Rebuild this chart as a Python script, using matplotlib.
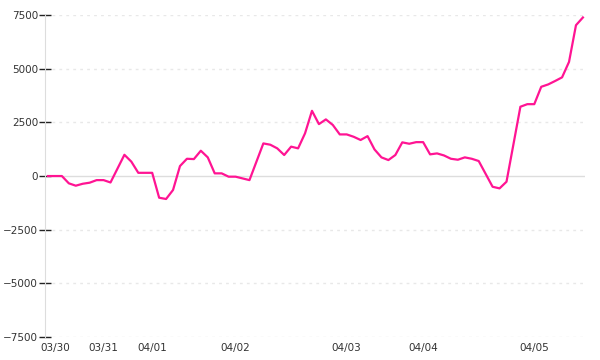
import matplotlib
matplotlib.use("Agg")
import matplotlib.pyplot as plt
import numpy as np

# one value per sample, evenly spaced along x
values = [0, 0, 0, -340, -450, -360, -310, -190, -190, -300,
          345, 990, 670, 150, 150, 150, -1010, -1070, -650, 465,
          805, 790, 1180, 870, 125, 125, -30, -30, -110, -190,
          665, 1520, 1460, 1290, 980, 1370, 1290, 1990, 3040, 2420,
          2640, 2380, 1940, 1940, 1830, 1680, 1860, 1240, 870, 745,
          980, 1570, 1505, 1580, 1580, 1010, 1055, 960, 805, 760,
          870, 805, 700, 100, -500, -575, -265, 1480, 3230, 3350,
          3350, 4160, 4270, 4430, 4600, 5320, 7030, 7390]

# first sample of each day
day_pos = [1, 8, 15, 27, 43, 54, 70]
day_labels = ["03/30", "03/31", "04/01", "04/02", "04/03", "04/04", "04/05"]

y_ticks = [-7500, -5000, -2500, 0, 2500, 5000, 7500]

x = np.arange(len(values))

fig = plt.figure(figsize=(6, 3.6), dpi=100)
ax = fig.add_axes([0.075, 0.064, 0.9, 0.894])

# grid
for t in y_ticks:
    if t == 0:
        ax.axhline(t, color="#dddddd", lw=1, zorder=1)
    else:
        ax.axhline(t, color="#e8e8e8", lw=1, ls=(0, (2, 3)), zorder=1)

ax.plot(x, values, color="#ff1493", lw=1.6, zorder=3)

ax.set_ylim(-7500, 7500)
ax.set_xlim(-0.43, 77.3)
ax.set_yticks(y_ticks)
ax.set_yticklabels([str(t).replace("-", "\u2212") for t in y_ticks])
ax.set_xticks(day_pos)
ax.set_xticklabels(day_labels)

for s in ["top", "right", "bottom"]:
    ax.spines[s].set_visible(False)
ax.spines["left"].set_color("#dddddd")

ax.tick_params(axis="y", direction="inout", length=8, width=1, color="#222222",
               labelsize=7.5, labelcolor="#333333", pad=1)
ax.tick_params(axis="x", length=0, labelsize=7.5, labelcolor="#333333", pad=4)

fig.savefig("out.png", dpi=100)
